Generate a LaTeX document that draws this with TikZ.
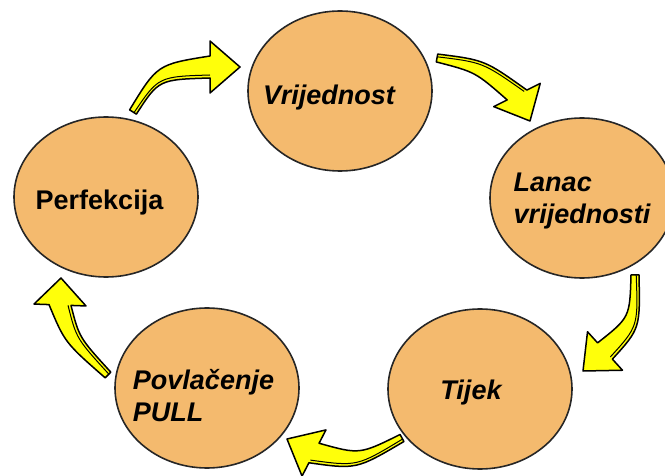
\documentclass[tikz,border=0pt]{standalone}
\usepackage{fontspec}
\setmainfont{Liberation Sans}
\usepackage{tikz}
\usetikzlibrary{shapes.geometric,calc}
\definecolor{discfill}{RGB}{244,186,110}
\definecolor{arrowfill}{RGB}{255,255,10}
\tikzstyle{disc} = [draw=black!85,line width=0.8pt,fill=discfill,ellipse,minimum width=92pt,minimum height=80pt,inner sep=0pt]
\tikzstyle{lbl} = [font=\fontsize{13.5}{16}\selectfont\bfseries\itshape,align=left,inner sep=0pt]
\tikzstyle{bigarrow} = [draw=black,line width=0.75pt,fill=arrowfill,line join=round]
% bent block arrow: #1 prefix of its coordinates, #2 side of the edge strip
\newcommand{\bentarrow}[2]{%
  \coordinate (tl) at ($(#1tail)!2pt!90:(#1ctrl)$);
  \coordinate (tr) at ($(#1tail)!2pt!-90:(#1ctrl)$);
  \coordinate (cl) at ($(#1ctrl)!3.8pt!90:(#1base)$);
  \coordinate (cr) at ($(#1ctrl)!3.8pt!-90:(#1base)$);
  \coordinate (bl) at ($(#1base)!5.5pt!90:(#1tip)$);
  \coordinate (br) at ($(#1base)!5.5pt!-90:(#1tip)$);
  \coordinate (hl) at ($(#1base)!13pt!90:(#1tip)$);
  \coordinate (hr) at ($(#1base)!13pt!-90:(#1tip)$);
  \draw[bigarrow] (tl) .. controls (cl) .. (bl) -- (hl) -- (#1tip) -- (hr) -- (br) .. controls (cr) .. (tr) -- cycle;
  \draw[line width=0.5pt] ($(#1tail)!0.6pt!#2:(#1ctrl)$) .. controls ($(#1ctrl)!2.3pt!#2:(#1base)$) .. ($(#1base)!4pt!#2:(#1tip)$);
}

\begin{document}
\begin{tikzpicture}[x=0.5pt,y=-0.5pt]
    \useasboundingbox (0,0) rectangle (665,476);
    % circles
    \node[disc,label={[lbl,xshift=-5.5pt,yshift=-3.5pt]center:Vrijednost}] (vr) at (340,91) {};
    \node[disc,label={[lbl,yshift=-1.5pt]center:{Lanac\\vrijednosti}}] (la) at (582,198) {};
    \node[disc,label={[lbl,xshift=-4.5pt,yshift=-2pt]center:Tijek}] (ti) at (480,389) {};
    \node[disc,label={[lbl,xshift=-1.75pt,yshift=-4pt]center:{Povlačenje\\PULL}}] (po) at (207,388) {};
    \node[disc,label={[lbl,font=\fontsize{13.5}{16}\selectfont\bfseries,xshift=-3.25pt,yshift=-3pt]center:Perfekcija}] (pe) at (106,197) {};
    % arrows
    \coordinate (a1tail) at (133,112); \coordinate (a1ctrl) at (158,72);
    \coordinate (a1base) at (210,67);  \coordinate (a1tip) at (240,67);
    \coordinate (a2tail) at (437,58);  \coordinate (a2ctrl) at (480,66);
    \coordinate (a2base) at (517,95);  \coordinate (a2tip) at (530,121);
    \coordinate (a3tail) at (635,275); \coordinate (a3ctrl) at (635,323);
    \coordinate (a3base) at (605,351); \coordinate (a3tip) at (583,371);
    \coordinate (a4tail) at (402,438); \coordinate (a4ctrl) at (358,462);
    \coordinate (a4base) at (314,453); \coordinate (a4tip) at (287,439);
    \coordinate (a5tail) at (108,375); \coordinate (a5ctrl) at (72,340);
    \coordinate (a5base) at (60,305);  \coordinate (a5tip) at (61,278);
    \bentarrow{a1}{-90}
    \bentarrow{a2}{90}
    \bentarrow{a3}{90}
    \bentarrow{a4}{90}
    \bentarrow{a5}{-90}
\end{tikzpicture}
\end{document}
